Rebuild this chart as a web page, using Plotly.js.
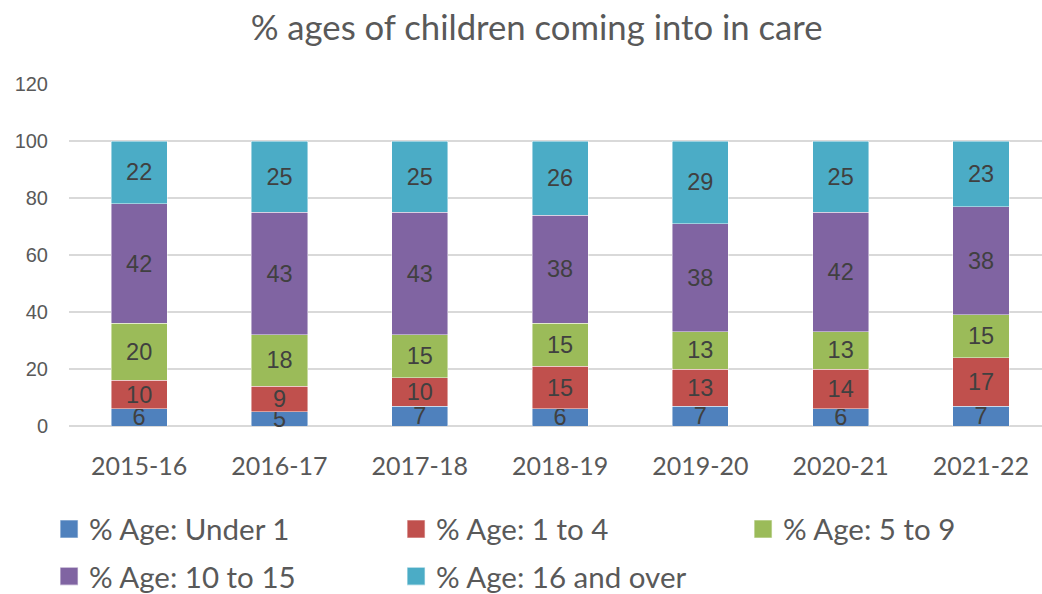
<!DOCTYPE html>
<html>
<head>
<meta charset="utf-8">
<script src="https://cdn.plot.ly/plotly-3.0.1.min.js"></script>
<style>html,body{margin:0;padding:0;background:#fff;overflow:hidden}#chart{width:1042px;height:594px}</style>
</head>
<body>
<div id="chart"></div>
<script>
var years = ["2015-16","2016-17","2017-18","2018-19","2019-20","2020-21","2021-22"];
var under1 = [6,5,7,6,7,6,7];
var age1to4 = [10,9,10,15,13,14,17];
var age5to9 = [20,18,15,15,13,13,15];
var age10to15 = [42,43,43,38,38,42,38];
var age16plus = [22,25,25,26,29,25,23];
var seriesNames = ["% Age: Under 1","% Age: 1 to 4","% Age: 5 to 9","% Age: 10 to 15","% Age: 16 and over"];
var seriesValues = [under1, age1to4, age5to9, age10to15, age16plus];
var colors = ["#4F81BD","#C0504D","#9BBB59","#8064A2","#4BACC6"];
var legendRow = ["legend","legend","legend","legend2","legend2"];

var traces = seriesValues.map(function(v,i){
  return {
    type:"bar", x:years, y:v, name:seriesNames[i], legend:legendRow[i],
    marker:{color:colors[i], line:{color:"rgba(255,255,255,0.6)", width:0.75}},
    text:v.map(String), textposition:"inside", insidetextanchor:"middle", textangle:0,
    textfont:{family:"Liberation Sans, Arial, sans-serif", size:23.5, color:"#404040"},
    constraintext:"none", cliponaxis:false, hoverinfo:"x+y+name"
  };
});

var legendFont = {family:"Lato, sans-serif", size:29.5, color:"#595959"};
var layout = {
  width:1042, height:594,
  barmode:"stack", bargap:0.6,
  paper_bgcolor:"#fff", plot_bgcolor:"#fff",
  margin:{l:69, r:0, t:84, b:168, pad:0, autoexpand:false},
  title:{text:"% ages of children coming into in care", x:0.515, xref:"container", xanchor:"center", y:0.953, yanchor:"middle",
    font:{family:"Lato, sans-serif", size:34.7, color:"#595959"}},
  xaxis:{type:"category", range:[-0.5,6.435], showgrid:false, zeroline:false, showline:false, ticks:"",
    tickfont:{family:"Lato, sans-serif", size:25, color:"#595959"}, ticklabelstandoff:23},
  yaxis:{range:[0,120], dtick:20, tick0:0, showgrid:true, gridcolor:"#D9D9D9", gridwidth:1.5, zeroline:true, zerolinecolor:"#D9D9D9", zerolinewidth:1.5, showline:false, ticks:"",
    tickfont:{family:"Liberation Sans, Arial, sans-serif", size:20, color:"#595959"}, ticklabelstandoff:20},
  showlegend:true,
  legend:{orientation:"h", x:-0.0205, xanchor:"left", y:-0.302, yanchor:"middle", traceorder:"normal",
    entrywidth:302, entrywidthmode:"pixels", itemwidth:30, font:legendFont},
  legend2:{orientation:"h", x:-0.0205, xanchor:"left", y:-0.44, yanchor:"middle", traceorder:"normal",
    entrywidth:302, entrywidthmode:"pixels", itemwidth:30, font:legendFont}
};
Plotly.newPlot("chart", traces, layout, {displayModeBar:false, staticPlot:true}).then(function(gd){
  var paths = gd.querySelectorAll("g.legendpoints path");
  paths.forEach(function(p){
    var t = p.getAttribute("transform") || "";
    p.setAttribute("transform", t + " scale(1.5)");
  });
});
</script>
</body>
</html>
